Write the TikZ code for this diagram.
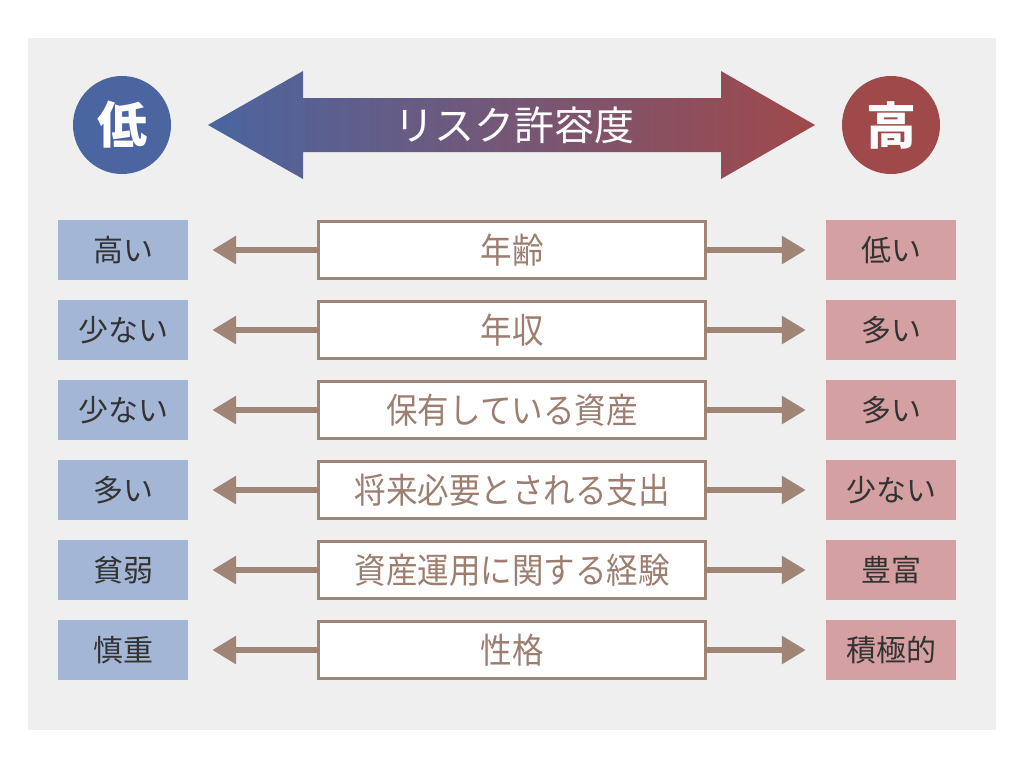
\documentclass[tikz,border=0pt]{standalone}
\usepackage{fontspec}
\newfontfamily\jpfont{Noto Sans CJK JP}
\newfontfamily\jpnarrow{Noto Sans CJK JP}[FakeStretch=0.9]
\usepackage{tikz}
\usetikzlibrary{arrows.meta}
\definecolor{bggray}{HTML}{EFEFEF}
\definecolor{lowblue}{HTML}{4A65A0}
\definecolor{highred}{HTML}{A0494B}
\definecolor{lowbox}{HTML}{A3B6D6}
\definecolor{highbox}{HTML}{D4A0A2}
\definecolor{taupe}{HTML}{A08576}
\definecolor{midtext}{HTML}{9C7F70}
\definecolor{darktext}{HTML}{333333}

\begin{document}
\begin{tikzpicture}[x=1pt, y=-1pt,
	side/.style={minimum width=130pt, minimum height=60pt, inner sep=0pt, text=darktext, font=\jpfont\fontsize{30}{34}\selectfont},
	factor/.style={draw=taupe, line width=3pt, fill=white, minimum width=387pt, minimum height=57pt, inner sep=0pt, text=midtext, font=\jpnarrow\fontsize{35}{40}\selectfont},
	toLow/.style={taupe, line width=6pt, -{Triangle[length=24pt, width=27pt]}, shorten >=24pt},
	toHigh/.style={taupe, line width=6pt, -{Triangle[length=24pt, width=27pt]}, shorten >=20pt}]
	\useasboundingbox (0,0) rectangle (1024,768);
	\fill[bggray] (28,38) rectangle (996,730);
	% Scale
	\node[circle, fill=lowblue, minimum size=98pt, inner sep=0pt, text=white, font=\jpfont\bfseries\fontsize{50}{56}\selectfont] (low) at (122,125) {低};
	\node[circle, fill=highred, minimum size=98pt, inner sep=0pt, text=white, font=\jpfont\bfseries\fontsize{50}{56}\selectfont] (high) at (891,125) {高};
	\shade[left color=lowblue, right color=highred] (208,125) -- (303,71) -- (303,98) -- (721,98) -- (721,71) -- (815,125) -- (721,179) -- (721,152) -- (303,152) -- (303,179) -- cycle;
	\node[text=white, font=\jpfont\fontsize{40}{46}\selectfont] (title) at (514,125) {リスク許容度};
	% Low side
	\node[side, fill=lowbox] (left1) at (123,250) {高い};
	\node[side, fill=lowbox] (left2) at (123,330) {少ない};
	\node[side, fill=lowbox] (left3) at (123,410) {少ない};
	\node[side, fill=lowbox] (left4) at (123,490) {多い};
	\node[side, fill=lowbox] (left5) at (123,570) {貧弱};
	\node[side, fill=lowbox] (left6) at (123,650) {慎重};
	% Factors
	\node[factor] (mid1) at (512,250) {年齢};
	\node[factor] (mid2) at (512,330) {年収};
	\node[factor] (mid3) at (512,410) {保有している資産};
	\node[factor] (mid4) at (512,490) {将来必要とされる支出};
	\node[factor] (mid5) at (512,570) {資産運用に関する経験};
	\node[factor] (mid6) at (512,650) {性格};
	% High side
	\node[side, fill=highbox] (right1) at (891,250) {低い};
	\node[side, fill=highbox] (right2) at (891,330) {多い};
	\node[side, fill=highbox] (right3) at (891,410) {多い};
	\node[side, fill=highbox] (right4) at (891,490) {少ない};
	\node[side, fill=highbox] (right5) at (891,570) {豊富};
	\node[side, fill=highbox] (right6) at (891,650) {積極的};
	% Arrows low
	\draw[toLow] (mid1.west) -- (left1.east);
	\draw[toLow] (mid2.west) -- (left2.east);
	\draw[toLow] (mid3.west) -- (left3.east);
	\draw[toLow] (mid4.west) -- (left4.east);
	\draw[toLow] (mid5.west) -- (left5.east);
	\draw[toLow] (mid6.west) -- (left6.east);
	% Arrows high
	\draw[toHigh] (mid1.east) -- (right1.west);
	\draw[toHigh] (mid2.east) -- (right2.west);
	\draw[toHigh] (mid3.east) -- (right3.west);
	\draw[toHigh] (mid4.east) -- (right4.west);
	\draw[toHigh] (mid5.east) -- (right5.west);
	\draw[toHigh] (mid6.east) -- (right6.west);
\end{tikzpicture}
\end{document}
